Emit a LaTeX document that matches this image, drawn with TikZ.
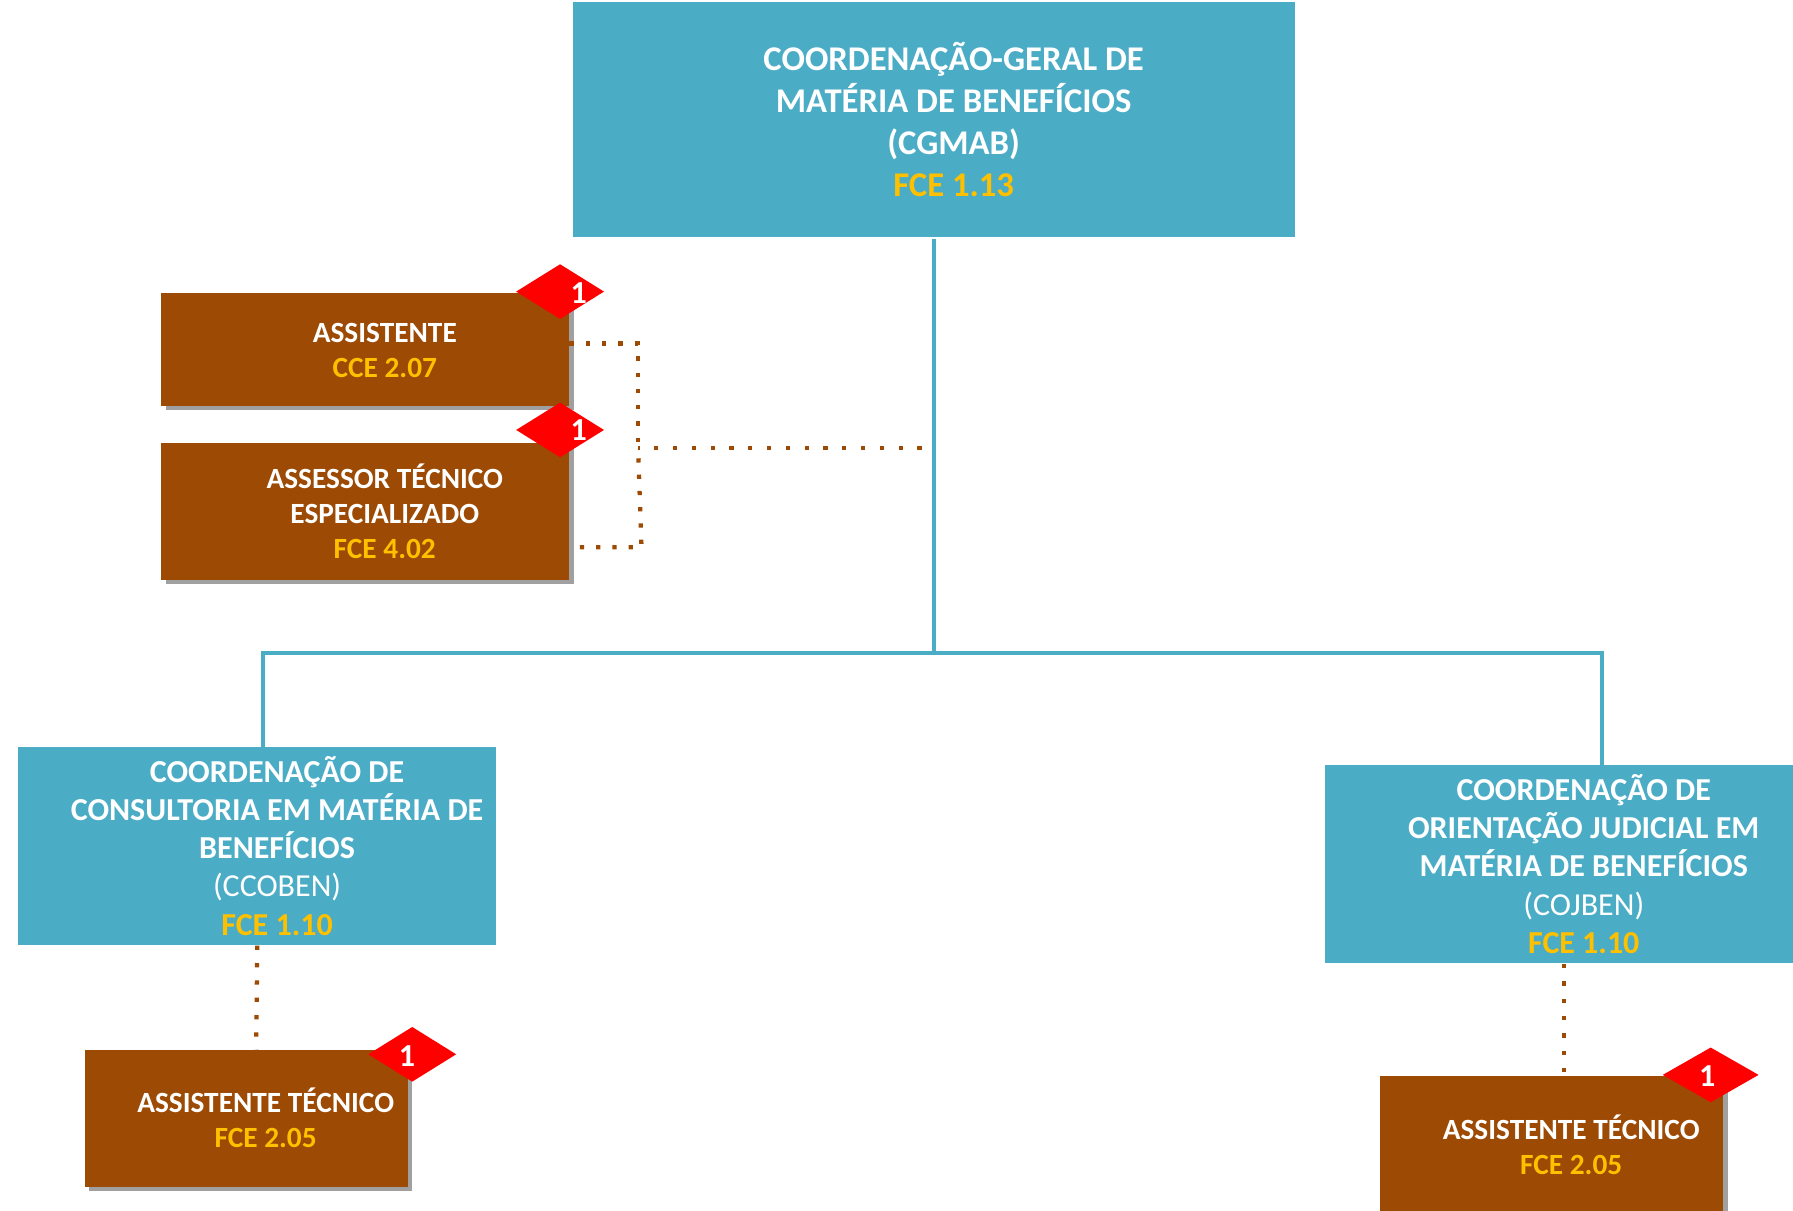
\documentclass[tikz,border=0pt]{standalone}
\usepackage{fontspec}
\setmainfont{Carlito}
\usetikzlibrary{shapes.geometric,shadows}
\def\u{0.8576pt}
\definecolor{bluebox}{HTML}{4BACC6}
\definecolor{brownbox}{HTML}{9C4A04}
\definecolor{goldtxt}{HTML}{FFC000}
\definecolor{shadowgray}{HTML}{A0A0A0}
\tikzset{
  x=0.8576pt,y=-0.8576pt,
  bluenode/.style={fill=bluebox,inner sep=0pt},
  brownnode/.style={fill=brownbox,inner sep=0pt,drop shadow={shadow xshift=3.2pt,shadow yshift=-3.2pt,fill=shadowgray,opacity=1}},
  badge/.style={diamond,fill=red,inner sep=0pt,aspect=1.6},
  badgetxt/.style={text=white,font=\bfseries\fontsize{24}{28}\selectfont,inner sep=0pt},
  bluelabel/.style={text=white,align=center,inner sep=0pt,font=\bfseries\fontsize{24}{28.7}\selectfont},
  toplabel/.style={text=white,align=center,inner sep=0pt,font=\bfseries\fontsize{26}{31.4}\selectfont},
  brownlabel/.style={text=white,align=center,inner sep=0pt,font=\bfseries\fontsize{22}{26.2}\selectfont},
  solidlink/.style={draw=bluebox,line width=3pt},
  dotlink/.style={draw=brownbox,line width=3.2pt},
  dotnear/.style={dotlink,dash pattern=on 3.2pt off 9pt},
  dotmid/.style={dotlink,dash pattern=on 3.2pt off 9.8pt},
  dotfar/.style={dotlink,dash pattern=on 3.2pt off 10.9pt}
}
\newcommand{\gold}[1]{\textcolor{goldtxt}{#1}}
\begin{document}
\begin{tikzpicture}
\useasboundingbox (0,0) rectangle (1568,1059);
\fill[white] (0,0) rectangle (1568,1059);
% solid connectors below boxes
\coordinate (bus) at (817,571);
\coordinate (busL) at (230,571);
\coordinate (busR) at (1401,571);
\coordinate (stubL) at (230,653);
\coordinate (stubR) at (1401,669);
\coordinate (topfoot) at (817,209);
\draw[solidlink] (topfoot) -- (bus);
\draw[solidlink] (stubL) -- (busL) -- (busR) -- (stubR);
% boxes
\node[bluenode,minimum width=631*\u,minimum height=205*\u] (top) at (816.8,104.5) {};
\node[brownnode,minimum width=357*\u,minimum height=99*\u] (assist) at (319.5,305.5) {};
\node[brownnode,minimum width=357*\u,minimum height=120*\u] (assessor) at (319.5,447) {};
\node[bluenode,minimum width=418*\u,minimum height=173*\u] (ccoben) at (225,739.5) {};
\node[bluenode,minimum width=409*\u,minimum height=173*\u] (cojben) at (1363.5,755.5) {};
\node[brownnode,minimum width=283*\u,minimum height=120*\u] (atl) at (215.5,978) {};
\node[brownnode,minimum width=300*\u,minimum height=120*\u] (atr) at (1357,1001) {};
% dotted connectors
\coordinate (d1) at (498,300.5);
\coordinate (d2) at (558,300.5);
\coordinate (d3) at (561,478.5);
\coordinate (d4) at (507,478.5);
\coordinate (d5) at (558,391.5);
\coordinate (d6) at (806,391.5);
\coordinate (cl1) at (225,827);
\coordinate (cl2) at (224,918);
\coordinate (cr1) at (1367.5,843);
\coordinate (cr2) at (1367.5,941);
\draw[dotnear] (d1) -- (d2) -- (d5);
\draw[dotnear] (d4) -- (d3) -- (d5);
\draw[dotfar] (d6) -- (d5);
\draw[dotmid] (cl1) -- (cl2);
\draw[dotmid] (cr1) -- (cr2);
% labels
\node[toplabel] (toptxt) at (834,104.5) {COORDENAÇÃO-GERAL DE\\MATÉRIA DE BENEFÍCIOS\\(CGMAB)\\\gold{FCE 1.13}};
\node[brownlabel] (assisttxt) at (336.5,306.5) {ASSISTENTE\\\gold{CCE 2.07}};
\node[brownlabel] (assessortxt) at (336.5,447) {ASSESSOR TÉCNICO\\ESPECIALIZADO\\\gold{FCE 4.02}};
\node[bluelabel] (ccobentxt) at (242.3,739.5) {COORDENAÇÃO DE\\CONSULTORIA EM MATÉRIA DE\\BENEFÍCIOS\\\mdseries (CCOBEN)\\\gold{FCE 1.10}};
\node[bluelabel] (cojbentxt) at (1385,755.5) {COORDENAÇÃO DE\\ORIENTAÇÃO JUDICIAL EM\\MATÉRIA DE BENEFÍCIOS\\\mdseries (COJBEN)\\\gold{FCE 1.10}};
\node[brownlabel] (atltxt) at (232.3,977.5) {ASSISTENTE TÉCNICO\\\gold{FCE 2.05}};
\node[brownlabel] (atrtxt) at (1374,1001) {ASSISTENTE TÉCNICO\\\gold{FCE 2.05}};
% badges
\node[badge,minimum width=77*\u,minimum height=48*\u] (b1) at (489.8,255) {};
\node[badge,minimum width=77*\u,minimum height=48*\u] (b2) at (489.8,376) {};
\node[badge,minimum width=77*\u,minimum height=48*\u] (b3) at (360.5,922) {};
\node[badge,minimum width=84*\u,minimum height=48*\u] (b4) at (1496,940) {};
\node[badgetxt] (n1) at (506,256) {1};
\node[badgetxt] (n2) at (506,376) {1};
\node[badgetxt] (n3) at (356,924) {1};
\node[badgetxt] (n4) at (1493,941) {1};
\end{tikzpicture}
\end{document}
